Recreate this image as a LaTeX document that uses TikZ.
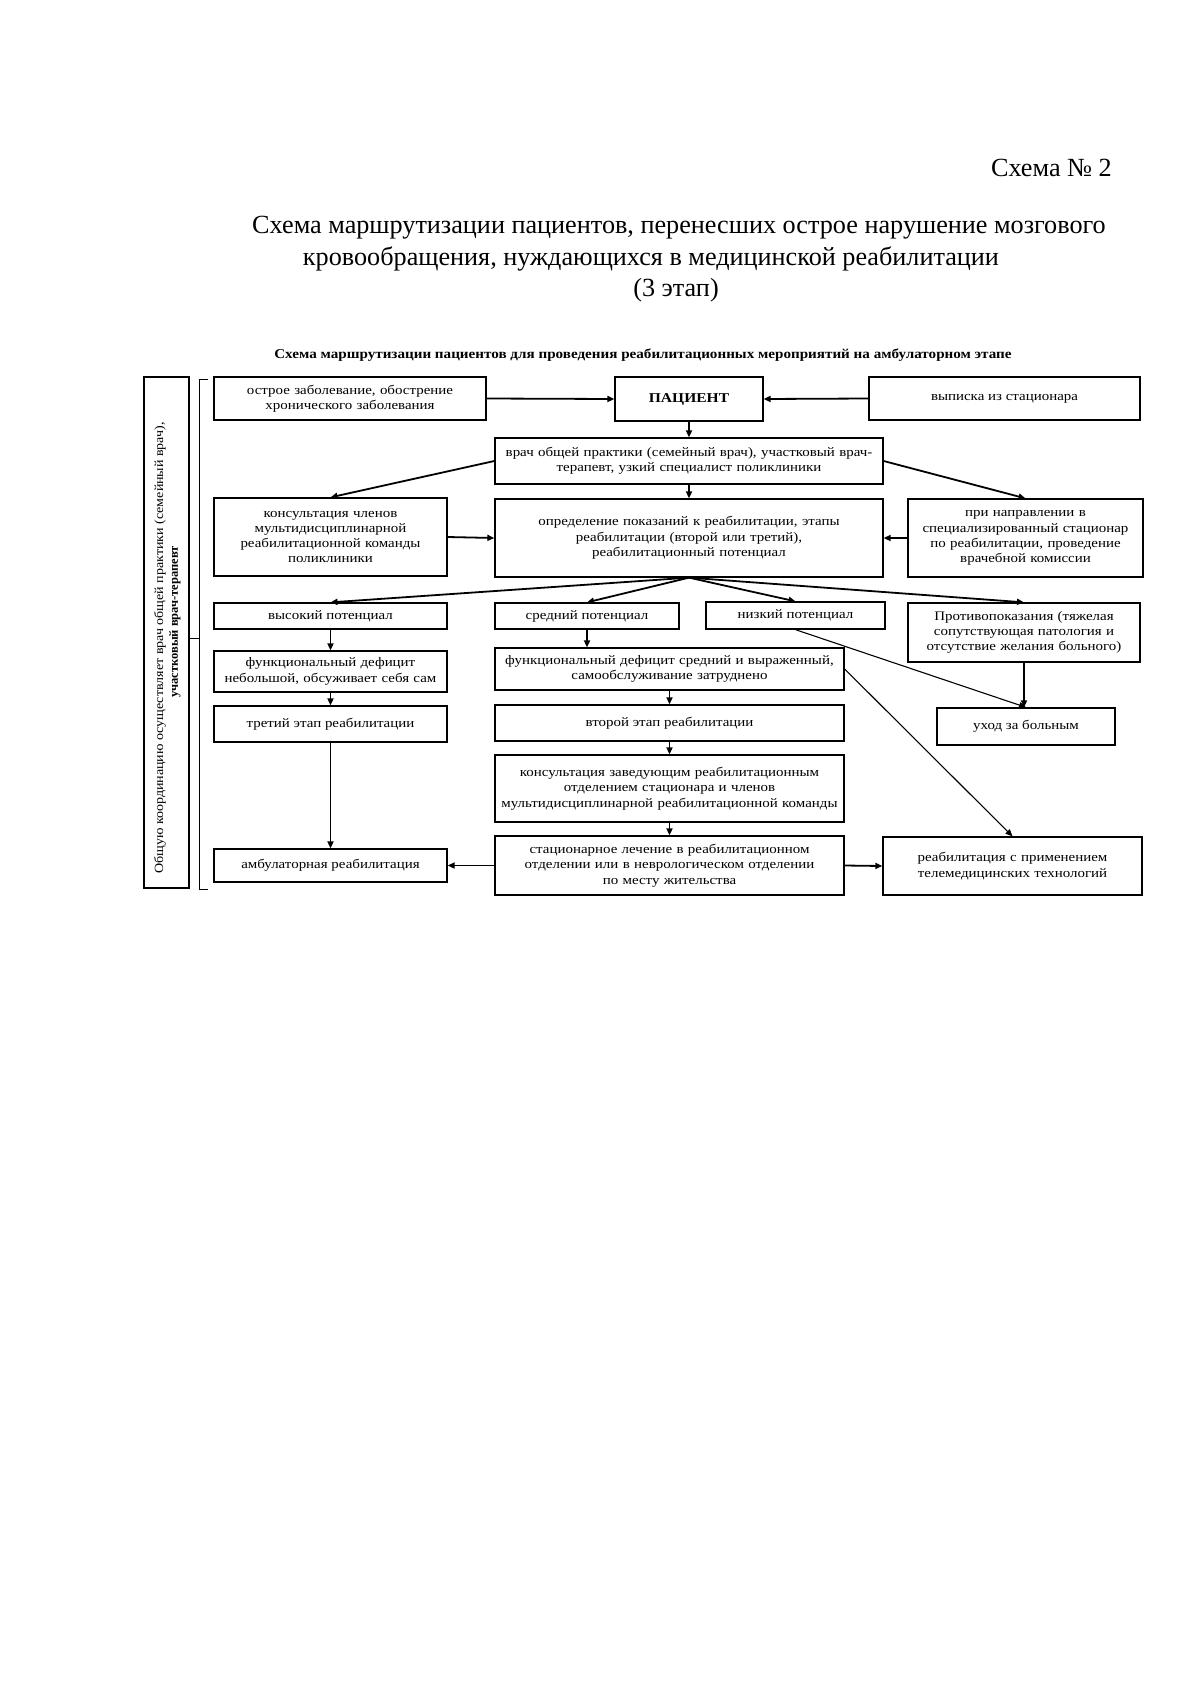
\documentclass[tikz,border=0pt]{standalone}
\usepackage{fontspec}
\setmainfont{Liberation Serif}
\newfontfamily\boxfont[FakeStretch=1.15]{Liberation Serif}
\newfontfamily\subfont[FakeStretch=1.12]{Liberation Serif}
\usetikzlibrary{arrows.meta,calc}
\begin{document}
\begin{tikzpicture}[x=1pt,y=-1pt,
  bx/.style={draw=black,line width=1.3pt,inner sep=0pt,align=center,
    font=\boxfont\fontsize{13}{15.3}\selectfont},
  arr/.style={line width=1.8pt,-{Triangle[length=7pt,width=6pt]}},
  thinarr/.style={line width=1.1pt,-{Triangle[length=7pt,width=6pt]}},
  ttl/.style={inner sep=0pt,font=\fontsize{26.2}{31}\selectfont}]
\fill[white] (0,0) rectangle (1200,1697);
\path[use as bounding box] (0,0) rectangle (1200,1697);
% titles
\node[ttl,anchor=east] (t0) at (1112,168) {Схема № 2};
\node[ttl] (t1) at (679,228) {Схема маршрутизации пациентов, перенесших острое нарушение мозгового};
\node[ttl] (t2) at (651,259) {кровообращения, нуждающихся в медицинской реабилитации};
\node[ttl] (t3) at (676,290) {(3 этап)};
\node[inner sep=0pt,font=\subfont\fontsize{13.5}{15}\selectfont\bfseries] (sub) at (643,355)
  {Схема маршрутизации пациентов для проведения реабилитационных мероприятий на амбулаторном этапе};
% left box and bracket
\node[bx,minimum width=45pt,minimum height=511pt] (lb) at (166.5,632.5) {};
\node[inner sep=0pt,rotate=90,font=\subfont\fontsize{12.5}{13}\selectfont] (lt1) at (160,648)
  {Общую координацию осуществляет врач общей практики (семейный врач),};
\node[inner sep=0pt,rotate=90,font=\fontsize{12.5}{13}\selectfont\bfseries] (lt2) at (175,622)
  {участковый врач-терапевт};
\coordinate (brt) at (208,379);
\coordinate (brb) at (208,889);
\draw[line width=1pt] (brt) -- (199,379) -- (199,889) -- (brb);
\draw[line width=1pt] (199,638) -- (lb.east |- 0,638);
% boxes
\node[bx,minimum width=272pt,minimum height=43pt,text width=262pt] (acute) at (350,398.5)
  {острое заболевание, обострение\\хронического заболевания};
\node[bx,minimum width=148pt,minimum height=44pt,font=\boxfont\fontsize{13.5}{15}\selectfont\bfseries] (pat) at (689,399) {ПАЦИЕНТ};
\node[bx,minimum width=271pt,minimum height=43pt] (vyp) at (1004.5,398.5) {выписка из стационара};
\node[bx,minimum width=388pt,minimum height=46pt,text width=384pt] (vrach) at (689,461)
  {врач общей практики (семейный врач), участковый врач-\\терапевт, узкий специалист поликлиники};
\node[bx,minimum width=233pt,minimum height=78pt,text width=229pt] (kons) at (330.5,537)
  {консультация членов\\мультидисциплинарной\\реабилитационной команды\\поликлиники};
\node[bx,minimum width=388pt,minimum height=78pt,text width=384pt] (opr) at (689,538)
  {определение показаний к реабилитации, этапы\\реабилитации (второй или третий),\\реабилитационный потенциал};
\node[bx,minimum width=235pt,minimum height=78pt,text width=233pt] (napr) at (1025.5,538)
  {при направлении в\\специализированный стационар\\по реабилитации, проведение\\врачебной комиссии};
\node[bx,minimum width=233pt,minimum height=26pt] (vys) at (330.5,616) {высокий потенциал};
\node[bx,minimum width=184pt,minimum height=26pt] (sred) at (587,616) {средний потенциал};
\node[bx,minimum width=179pt,minimum height=27pt] (niz) at (795.5,615.5) {низкий потенциал};
\node[bx,minimum width=232pt,minimum height=59pt,text width=230pt] (protiv) at (1024,632.5)
  {Противопоказания (тяжелая\\сопутствующая патология и\\отсутствие желания больного)};
\node[bx,minimum width=233pt,minimum height=41pt,text width=231pt] (fdn) at (330.5,671.5)
  {функциональный дефицит\\небольшой, обсуживает себя сам};
\node[bx,minimum width=233pt,minimum height=36pt] (tret) at (330.5,724) {третий этап реабилитации};
\node[bx,minimum width=233pt,minimum height=33pt] (amb) at (330.5,865.5) {амбулаторная реабилитация};
\node[bx,minimum width=349pt,minimum height=42pt,text width=347pt] (fds) at (669.5,669)
  {функциональный дефицит средний и выраженный,\\самообслуживание затруднено};
\node[bx,minimum width=349pt,minimum height=36pt] (vtor) at (669.5,723) {второй этап реабилитации};
\node[bx,minimum width=349pt,minimum height=67pt,text width=347pt] (konsz) at (669.5,788.5)
  {консультация заведующим реабилитационным\\отделением стационара и членов\\мультидисциплинарной реабилитационной команды};
\node[bx,minimum width=349pt,minimum height=59pt,text width=347pt] (stac) at (669.5,865.5)
  {стационарное лечение в реабилитационном\\отделении или в неврологическом отделении\\по месту жительства};
\node[bx,minimum width=259pt,minimum height=58pt,text width=255pt] (tele) at (1012.5,866)
  {реабилитация с применением\\телемедицинских технологий};
\node[bx,minimum width=178pt,minimum height=37pt] (uhod) at (1026,726.5) {уход за больным};
% arrows
\draw[arr] (acute.east) -- (pat.west);
\draw[arr] (vyp.west) -- (pat.east);
\draw[arr] (pat.south) -- (vrach.north);
\draw[arr] (vrach.west) -- (kons.north);
\draw[arr] (vrach.east) -- (napr.north);
\draw[arr] (vrach.south) -- (opr.north);
\draw[arr] (kons.east) -- (opr.west);
\draw[arr] (napr.west) -- (opr.east);
\draw[arr] (opr.south) -- (vys.north);
\draw[arr] (opr.south) -- (sred.north);
\draw[arr] (opr.south) -- (niz.north);
\draw[arr] (opr.south) -- (protiv.north);
\draw[arr] (vys.south) -- (fdn.north);
\draw[arr] (fdn.south) -- (tret.north);
\draw[arr] (tret.south) -- (amb.north);
\draw[arr] (sred.south) -- (sred.south |- fds.north);
\draw[arr] (fds.south) -- (vtor.north);
\draw[arr] (vtor.south) -- (konsz.north);
\draw[arr] (konsz.south) -- (stac.north);
\draw[arr] (stac.west) -- (amb.east);
\draw[arr] (stac.east) -- (tele.west);
\draw[thinarr] (niz.south) -- (uhod.north);
\draw[thinarr] (fds.east) -- (tele.north);
\draw[arr] (protiv.south) -- (protiv.south |- uhod.north);
\end{tikzpicture}
\end{document}
